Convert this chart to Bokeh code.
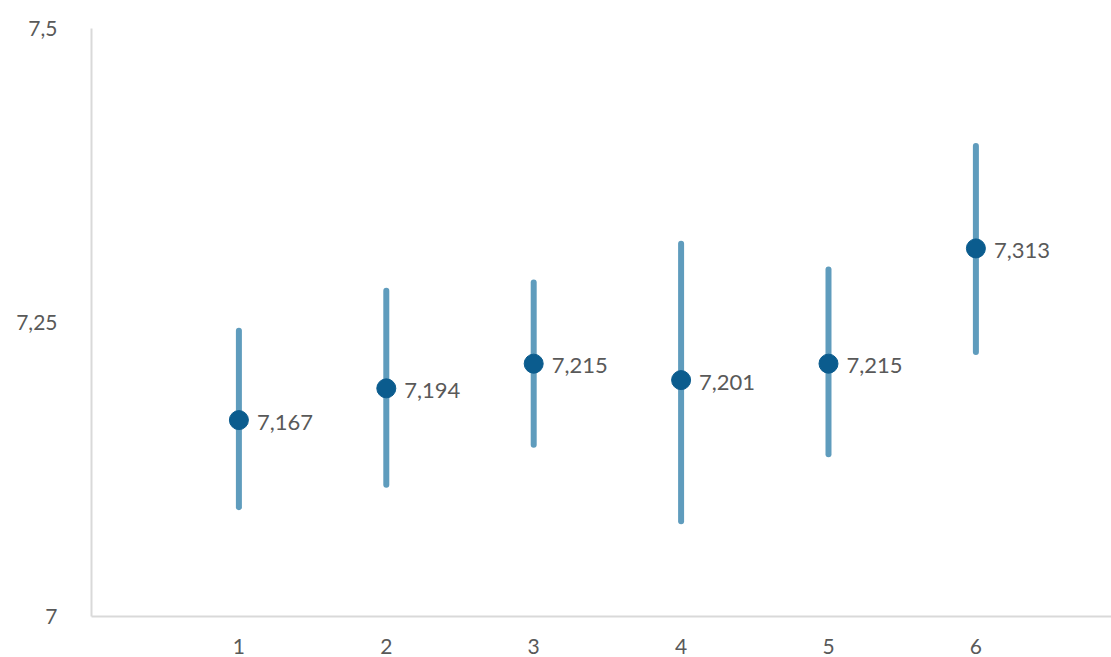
from bokeh.plotting import figure
from bokeh.models import Range1d, FixedTicker, ColumnDataSource
from bokeh.core.properties import value
from bokeh.embed import file_html
from bokeh.resources import INLINE

# Group numbers, means and interval bounds
groups = [1, 2, 3, 4, 5, 6]
means = [7.167, 7.194, 7.215, 7.201, 7.215, 7.313]
upper = [7.243, 7.277, 7.284, 7.317, 7.295, 7.400]
lower = [7.093, 7.112, 7.146, 7.081, 7.138, 7.225]
y_ticks = [7, 7.25, 7.5]
y_tick_labels = ["7", "7,25", "7,5"]

labels = [f"{m:.3f}".replace(".", ",") for m in means]
src = ColumnDataSource(dict(x=groups, m=means, lo=lower, hi=upper, lab=labels))

FONT = "Lato"
GRAY = "#595959"

p = figure(width=1111, height=657, output_backend="svg", toolbar_location=None,
           x_range=Range1d(0, 6.92), y_range=Range1d(7, 7.5),
           min_border_left=91, min_border_right=0, min_border_top=28,
           min_border_bottom=41)
p.outline_line_color = None
p.grid.visible = False
p.background_fill_color = "white"
p.border_fill_color = "white"

# interval bars
p.segment(x0="x", y0="lo", x1="x", y1="hi", source=src,
          line_color="#5f9cbd", line_width=6, line_cap="round")
# mean markers
p.scatter(x="x", y="m", source=src, size=19, fill_color="#0b5c8e",
          line_color="#0b5c8e")
# value labels
p.text(x="x", y="m", text="lab", source=src, x_offset=18, y_offset=2,
       text_align="left", text_baseline="middle", text_color=GRAY,
       text_font=value(FONT), text_font_size="22px")

# axes
for ax in (p.xaxis[0], p.yaxis[0]):
    ax.axis_line_color = "#d9d9d9"
    ax.axis_line_width = 2
    ax.major_tick_line_color = None
    ax.minor_tick_line_color = None
    ax.major_label_text_color = GRAY
    ax.major_label_text_font = FONT
    ax.major_label_text_font_size = "21px"

p.yaxis.ticker = FixedTicker(ticks=y_ticks)
p.yaxis.major_label_overrides = {t: l for t, l in zip(y_ticks, y_tick_labels)}
p.yaxis.major_label_standoff = 28
p.xaxis.ticker = FixedTicker(ticks=groups)
p.xaxis.major_label_standoff = 16

open("out.html", "w").write(file_html(p, INLINE))
